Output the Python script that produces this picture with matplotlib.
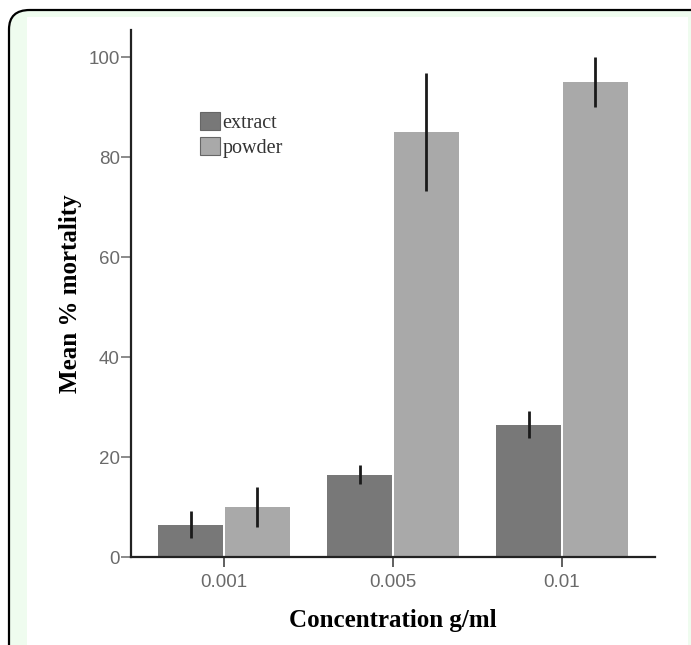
import numpy as np
import matplotlib
matplotlib.use("Agg")
import matplotlib.pyplot as plt
from matplotlib.patches import FancyBboxPatch, Rectangle

# data
concentrations = ["0.001", "0.005", "0.01"]
extract_mean = [6.5, 16.5, 26.5]
extract_err = [2.7, 1.9, 2.7]
powder_mean = [10.0, 85.0, 95.0]
powder_err = [4.0, 11.8, 5.0]

W, H = 691, 645
fig = plt.figure(figsize=(W / 100, H / 100), dpi=100)
fig.patch.set_facecolor("white")

# framed panel with rounded corner (light green), white image inside
frame = FancyBboxPatch((9 / W, -0.2), 1.2, (H - 10) / H + 0.2,
                       boxstyle="round,pad=0,rounding_size=0.03",
                       transform=fig.transFigure, facecolor="#effcef",
                       edgecolor="black", linewidth=1.6, zorder=-2)
fig.patches.append(frame)
inner = Rectangle((27 / W, 0), (688 - 27) / W, (H - 17) / H,
                  transform=fig.transFigure, facecolor="white",
                  edgecolor="none", zorder=-1)
fig.patches.append(inner)

ax_l, ax_r = 131, 655
ax_b, ax_t = 557, 30
ax = fig.add_axes([ax_l / W, (H - ax_b) / H, (ax_r - ax_l) / W, (ax_b - ax_t) / H])
ax.set_zorder(2)
ax.set_facecolor("none")

x = np.arange(len(concentrations))
bw = 0.385
off = 0.197
ax.bar(x - off, extract_mean, bw, color="#787878", label="extract", zorder=2)
ax.bar(x + off, powder_mean, bw, color="#a9a9a9", label="powder", zorder=2)
ax.errorbar(x - off, extract_mean, yerr=extract_err, fmt="none",
            ecolor="#1a1a1a", elinewidth=2.0, capsize=0, zorder=3)
ax.errorbar(x + off, powder_mean, yerr=powder_err, fmt="none",
            ecolor="#1a1a1a", elinewidth=2.0, capsize=0, zorder=3)

ax.set_xlim(-0.55, 2.55)
ax.set_ylim(0, 105.4)
ax.set_xticks(x)
ax.set_xticklabels(concentrations)
ax.set_yticks([0, 20, 40, 60, 80, 100])

for s in ["top", "right"]:
    ax.spines[s].set_visible(False)
for s in ["left", "bottom"]:
    ax.spines[s].set_linewidth(1.6)
    ax.spines[s].set_color("#222222")

ax.tick_params(axis="y", length=7, width=1.2, color="#777777",
               labelcolor="#6a6a6a", labelsize=13.5, pad=1)
ax.tick_params(axis="x", length=7, width=1.2, color="#444444",
               labelcolor="#6a6a6a", labelsize=13.5, pad=5)
for lab in ax.get_xticklabels() + ax.get_yticklabels():
    lab.set_family("Liberation Sans")

ax.set_xlabel("Concentration g/ml", family="Liberation Serif",
              fontweight="bold", fontsize=18, labelpad=13)
ax.set_ylabel("Mean % mortality", family="Liberation Serif",
              fontweight="bold", fontsize=18, labelpad=5)

leg = ax.legend(loc="upper left", bbox_to_anchor=(0.113, 0.863), frameon=False,
                borderpad=0, handlelength=1.0, handleheight=1.0,
                handletextpad=0.1, labelspacing=0.2,
                prop={"family": "Liberation Serif", "size": 14.5})
for h in leg.legend_handles:
    h.set_edgecolor("#666666")
    h.set_linewidth(0.8)
for t in leg.get_texts():
    t.set_color("#333333")

fig.savefig("out.png", dpi=100)
